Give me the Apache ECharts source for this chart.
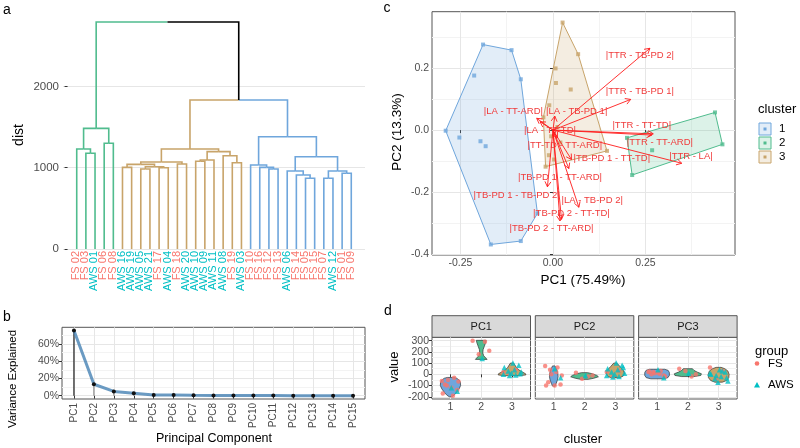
<!DOCTYPE html>
<html>
<head>
<meta charset="utf-8">
<script src="https://cdn.jsdelivr.net/npm/echarts@6/dist/echarts.min.js"></script>
<style>
  html, body { margin: 0; padding: 0; background: #fff; }
  #main { width: 800px; height: 448px; }
</style>
</head>
<body>
<div id="main"></div>
<script>
// ---------- data: a (dendrogram) ----------
const leafLabels = ["FS 02", "FS 03", "AWS 01", "FS 06", "FS 08",
  "AWS 16", "AWS 19", "AWS 05", "AWS 21", "FS 17", "AWS 04", "FS 18", "AWS 20", "AWS 10",
  "AWS 09", "AWS 11", "AWS 08", "FS 19", "AWS 03",
  "FS 10", "FS 16", "FS 12", "FS 13", "AWS 06", "FS 14", "FS 05", "FS 15", "FS 07",
  "AWS 12", "FS 01", "FS 09"];
const leafCluster = [2, 2, 2, 2, 2,
  3, 3, 3, 3, 3, 3, 3, 3, 3, 3, 3, 3, 3, 3,
  1, 1, 1, 1, 1, 1, 1, 1, 1, 1, 1, 1];
// hclust style: negative = leaf number, positive = earlier merge; third value = height
const merges = [
  [-2, -3, 1178], [-1, 1, 1231], [-4, -5, 1301], [2, 3, 1485],
  [-6, -7, 1005], [-8, -9, 985], [-10, -11, 1000], [6, 7, 1013], [5, 8, 1042],
  [-12, -13, 1046], [9, 10, 1071], [-14, -15, 1080], [12, -16, 1095],
  [-18, -19, 1062], [-17, 14, 1148], [13, 15, 1198], [11, 16, 1231],
  [-22, -23, 985], [-21, 18, 1005], [-20, 19, 1034], [-26, -27, 870],
  [-25, 21, 911], [-24, 22, 960], [-28, -29, 870], [-30, -31, 932],
  [24, 25, 960], [23, 26, 1136], [20, 27, 1382],
  [17, 28, 1834], [4, 29, 2794]
];
const distTicks = [0, 1000, 2000];

// ---------- data: b (scree) ----------
const pcNames = ["PC1", "PC2", "PC3", "PC4", "PC5", "PC6", "PC7", "PC8", "PC9", "PC10",
  "PC11", "PC12", "PC13", "PC14", "PC15"];
const varExplained = [75.49, 13.3, 5.0, 3.0, 1.0, 0.8, 0.5, 0.4, 0.3, 0.2, 0.15, 0.1, 0.08, 0.05, 0.03];
const varTicks = [0, 20, 40, 60];

// ---------- data: c (biplot) ----------
const scoresC1 = [[-0.189, 0.276], [-0.112, 0.258], [-0.087, 0.164], [-0.213, 0.176],
  [-0.290, -0.002], [-0.253, -0.024], [-0.196, -0.036], [-0.182, -0.052],
  [-0.168, -0.369], [-0.087, -0.358], [-0.042, -0.269]];
const scoresC2 = [[0.438, 0.057], [0.458, -0.046], [0.214, -0.145], [0.200, -0.025], [0.268, -0.065]];
const scoresC3 = [[0.026, 0.347], [0.068, 0.245], [0.007, 0.199], [0.008, 0.152], [0.048, 0.131],
  [-0.010, 0.080], [-0.026, 0.041], [-0.020, -0.118], [-0.011, -0.081], [0.003, -0.095],
  [0.146, -0.067], [0.012, 0.010], [0.020, -0.040], [-0.005, -0.020]];
const loadingNames = ["|TTR - TB-PD 2|", "|TTR - TB-PD 1|", "|TTR - TT-TD|", "|TTR - TT-ARD|",
  "|TTR - LA|", "|LA - TT-ARD|", "|LA - TB-PD 1|", "|LA - TT-TD|", "|TT-TD - TT-ARD|",
  "|TB-PD 1 - TT-TD|", "|TB-PD 1 - TT-ARD|", "|TB-PD 1 - TB-PD 2|", "|LA - TB-PD 2|",
  "|TB-PD 2 - TT-TD|", "|TB-PD 2 - TT-ARD|"];
const loadingX = [0.262, 0.210, 0.271, 0.267, 0.348, -0.044, 0.005, -0.035, 0.012,
  0.050, 0.043, -0.015, 0.070, 0.023, 0.019];
const loadingY = [0.264, 0.099, -0.012, -0.016, -0.107, 0.038, 0.045, 0.027, -0.025,
  -0.095, -0.124, -0.183, -0.249, -0.288, -0.293];
const labelX = [0.235, 0.235, 0.240, 0.289, 0.373, -0.107, 0.064, -0.008, 0.032,
  0.159, 0.019, -0.098, 0.106, 0.050, -0.004];
const labelY = [0.240, 0.124, 0.016, -0.040, -0.084, 0.062, 0.062, 0.000, -0.048,
  -0.091, -0.151, -0.210, -0.228, -0.269, -0.317];

// ---------- data: d (violins by cluster) ----------
const facetNames = ["PC1", "PC2", "PC3"];
const fsValues = [
  [[-60, -30, -50, -65, -90, -120, -140, -170, -190, -100], [300, 290, 180, 210], [20, 40, 0]],
  [[75, 60, 0, -10, -70, -100, -90, -100, 20, 40], [15, -20, -40, -10], [20, 30, -20]],
  [[20, 30, 10, -20, 0, 15, -10, 25, 5, 20], [50, -20, 30, 0], [60, 30, -40]]
];
const awsValues = [
  [[-120, -150], [140], [100, 80, 60, 40, 30, 20, 10, 0, -5, -10, 5]],
  [[50, -30], [-10], [100, 80, 50, 40, 20, 10, 0, -10, -20, -25, 60]],
  [[40, -30], [10], [40, 20, 0, -20, -40, -60, -70, 10, 30, -10, -30]]
];
// violin outlines: [value, half width in cluster units]
const violins = [
  [
    [[-200, 0.04], [-185, 0.12], [-160, 0.2], [-130, 0.28], [-100, 0.33], [-70, 0.32], [-50, 0.28], [-35, 0.2], [-28, 0.1]],
    [[133, 0.19], [145, 0.15], [165, 0.08], [190, 0.05], [220, 0.06], [250, 0.1], [280, 0.14], [303, 0.16]],
    [[-12, 0.25], [-5, 0.45], [5, 0.44], [20, 0.34], [40, 0.22], [60, 0.14], [80, 0.1], [100, 0.05]]
  ],
  [
    [[-105, 0.04], [-80, 0.08], [-50, 0.12], [-20, 0.14], [10, 0.13], [40, 0.1], [75, 0.04]],
    [[-45, 0.12], [-35, 0.3], [-22, 0.45], [-10, 0.4], [5, 0.25], [15, 0.1]],
    [[-30, 0.15], [-15, 0.26], [10, 0.3], [40, 0.25], [70, 0.15], [100, 0.05]]
  ],
  [
    [[-40, 0.2], [-30, 0.35], [-10, 0.4], [15, 0.4], [35, 0.36], [45, 0.25]],
    [[-20, 0.2], [-10, 0.42], [5, 0.44], [20, 0.3], [35, 0.2], [50, 0.15]],
    [[-70, 0.12], [-55, 0.26], [-30, 0.33], [0, 0.34], [30, 0.3], [50, 0.2], [62, 0.08]]
  ]
];
const valueTicks = [-200, -100, 0, 100, 200, 300];

// ---------- styling ----------
const FONT = "'Liberation Sans', Arial, sans-serif";
const TXT = "#4d4d4d";
const BORDER = "#555";
const MAJOR = "#e6e6e6";
const MINOR = "#f3f3f3";
const clusterColor = { 0: "#000000", 1: "#6FA6DC", 2: "#50BC8E", 3: "#C8A46A" };
const FS_COLOR = "#F8766D";
const AWS_COLOR = "#00BFC4";
const jitterPattern = [-0.28, 0.12, -0.08, 0.26, -0.18, 0.03, 0.22, -0.25, 0.08, -0.12, 0.3, -0.02];

// ---------- dendrogram geometry from merges ----------
const nodes = merges.map(() => null);
function nodeInfo(ref) {
  if (ref < 0) {
    const k = -ref;
    return { x: k, h: 0, clusters: new Set([leafCluster[k - 1]]) };
  }
  return nodes[ref - 1];
}
const dendroSegs = [];
merges.forEach((m, i) => {
  const a = nodeInfo(m[0]);
  const b = nodeInfo(m[1]);
  const x = (a.x + b.x) / 2;
  const h = m[2];
  [a, b].forEach(c => {
    const col = c.clusters.size === 1 ? [...c.clusters][0] : 0;
    dendroSegs.push([x, h, c.x, c.h, col]);
  });
  nodes[i] = { x: x, h: h, clusters: new Set([...a.clusters, ...b.clusters]) };
});

// ---------- convex hull ----------
function hull(pts) {
  const p = pts.slice().sort((a, b) => a[0] - b[0] || a[1] - b[1]);
  const cross = (o, a, b) => (a[0] - o[0]) * (b[1] - o[1]) - (a[1] - o[1]) * (b[0] - o[0]);
  const lower = [];
  for (const q of p) {
    while (lower.length >= 2 && cross(lower[lower.length - 2], lower[lower.length - 1], q) <= 0) lower.pop();
    lower.push(q);
  }
  const upper = [];
  for (const q of p.slice().reverse()) {
    while (upper.length >= 2 && cross(upper[upper.length - 2], upper[upper.length - 1], q) <= 0) upper.pop();
    upper.push(q);
  }
  upper.pop();
  lower.pop();
  return lower.concat(upper);
}
const clusterScores = [scoresC1, scoresC2, scoresC3];

// ---------- axis helpers ----------
function valAxis(gridIndex, min, max, ticks, fmt, extra) {
  return Object.assign({
    type: "value", gridIndex: gridIndex, min: min, max: max,
    axisLine: { show: false },
    axisTick: { show: true, length: 3, customValues: ticks, lineStyle: { color: "#333" } },
    axisLabel: { show: true, customValues: ticks, formatter: fmt, color: TXT, fontSize: 10.5, margin: 3, fontFamily: FONT },
    splitLine: { show: true, lineStyle: { color: MAJOR, width: 1 } }
  }, extra || {});
}
function minorAxis(gridIndex, min, max, ticks) {
  return {
    type: "value", gridIndex: gridIndex, min: min, max: max,
    axisLine: { show: false },
    axisTick: { show: false, customValues: ticks },
    axisLabel: { show: false, customValues: ticks },
    splitLine: { show: true, lineStyle: { color: MINOR, width: 1 } }
  };
}
const boxGrid = (left, top, width, height) => ({
  left: left, top: top, width: width, height: height, show: true,
  borderColor: BORDER, borderWidth: 1, backgroundColor: "#fff"
});

const facetLeft = [432, 535.3, 638.6];
const FACET_W = 98.5, FACET_TOP = 337.3, FACET_H = 61.7;

const grids = [
  { left: 63, top: 11.4, width: 302, height: 248.9 },
  { left: 71.4, top: 11.4, width: 284, height: 237.6 },
  boxGrid(62, 327.3, 303, 71.7),
  boxGrid(432, 11.7, 303, 243.3)
];
facetLeft.forEach(l => grids.push(boxGrid(l, FACET_TOP, FACET_W, FACET_H)));

const xAxes = [
  { type: "value", gridIndex: 0, min: -0.5, max: 32.5, show: false },
  {
    type: "category", gridIndex: 1, data: leafLabels,
    axisLine: { show: false }, axisTick: { show: false },
    axisLabel: {
      rotate: 90, interval: 0, margin: 2, fontSize: 11, fontFamily: FONT,
      color: v => (v.indexOf("AWS") === 0 ? AWS_COLOR : FS_COLOR)
    }
  },
  valAxis(2, 0.4, 15.6, pcNames.map((_, i) => i + 1), v => "PC" + v,
    { axisLabel: { customValues: pcNames.map((_, i) => i + 1), formatter: v => "PC" + v, rotate: 90, color: TXT, fontSize: 10, margin: 4, fontFamily: FONT } }),
  valAxis(3, -0.327, 0.492, [-0.25, 0, 0.25], v => v.toFixed(2)),
  minorAxis(3, -0.327, 0.492, [-0.125, 0.125, 0.375])
];
facetLeft.forEach((_, f) => xAxes.push(valAxis(4 + f, 0.4, 3.6, [1, 2, 3], v => String(v))));

const yAxes = [
  valAxis(0, -139, 2924, distTicks, v => String(v), { axisLabel: { customValues: distTicks, formatter: v => String(v), color: TXT, fontSize: 11.5, margin: 4, fontFamily: FONT } }),
  { type: "value", gridIndex: 1, min: 0, max: 1, show: false },
  valAxis(2, -3.77, 79.26, varTicks, v => v + "%"),
  minorAxis(2, -3.77, 79.26, [10, 30, 50, 70]),
  valAxis(3, -0.403, 0.382, [-0.4, -0.2, 0, 0.2], v => v.toFixed(1)),
  minorAxis(3, -0.403, 0.382, [-0.3, -0.1, 0.1, 0.3])
];
facetLeft.forEach((_, f) => yAxes.push(valAxis(4 + f, -220, 330, valueTicks, v => String(v),
  f === 0 ? {} : { axisLabel: { show: false, customValues: valueTicks }, axisTick: { show: false, customValues: valueTicks } })));
facetLeft.forEach((_, f) => yAxes.push(minorAxis(4 + f, -220, 330, [-150, -50, 50, 150, 250])));

// ---------- series ----------
const series = [];

series.push({
  type: "custom", xAxisIndex: 0, yAxisIndex: 0,
  encode: { x: [0, 2], y: [1, 3] },
  data: dendroSegs,
  renderItem: (params, api) => {
    const p0 = api.coord([api.value(0), api.value(1)]);
    const p1 = api.coord([api.value(2), api.value(1)]);
    const p2 = api.coord([api.value(2), api.value(3)]);
    return {
      type: "polyline",
      shape: { points: [p0, p1, p2] },
      style: { stroke: clusterColor[api.value(4)], lineWidth: 1.6, fill: null }
    };
  }
});
series.push({ type: "scatter", xAxisIndex: 1, yAxisIndex: 1, data: [] });

// b
const screeData = varExplained.map((v, i) => [i + 1, v]);
series.push({
  type: "bar", xAxisIndex: 2, yAxisIndex: 2, data: screeData, barWidth: 1.2,
  itemStyle: { color: p => (p.dataIndex === 0 ? "#1a1a1a" : "#8c8c8c") }
});
series.push({
  type: "line", xAxisIndex: 2, yAxisIndex: 2, data: screeData,
  lineStyle: { color: "rgba(70,130,180,0.8)", width: 3 },
  symbol: "circle", symbolSize: 4, itemStyle: { color: "#111" }, z: 3
});

// c: hulls
series.push({
  type: "custom", xAxisIndex: 3, yAxisIndex: 4,
  data: [[0, 0, 1], [0, 0, 2], [0, 0, 3]],
  renderItem: (params, api) => {
    const c = params.dataIndex + 1;
    const pts = hull(clusterScores[c - 1]).map(p => api.coord(p));
    return {
      type: "polygon", shape: { points: pts },
      style: { fill: echarts.color.modifyAlpha(clusterColor[c], 0.2), stroke: clusterColor[c], lineWidth: 1 }
    };
  }
});
clusterScores.forEach((pts, i) => {
  series.push({
    type: "scatter", xAxisIndex: 3, yAxisIndex: 4, data: pts,
    symbol: "rect", symbolSize: 4, itemStyle: { color: clusterColor[i + 1] }
  });
});
// c: arrows
series.push({
  type: "custom", xAxisIndex: 3, yAxisIndex: 4, z: 5,
  data: loadingX.map((x, i) => [x, loadingY[i]]),
  renderItem: (params, api) => {
    const o = api.coord([0, 0]);
    const e = api.coord([api.value(0), api.value(1)]);
    const ang = Math.atan2(e[1] - o[1], e[0] - o[0]);
    const L = 6, A = Math.PI / 6;
    const h1 = [e[0] - L * Math.cos(ang - A), e[1] - L * Math.sin(ang - A)];
    const h2 = [e[0] - L * Math.cos(ang + A), e[1] - L * Math.sin(ang + A)];
    const st = { stroke: "#ff1a1a", lineWidth: 0.9 };
    return {
      type: "group", children: [
        { type: "line", shape: { x1: o[0], y1: o[1], x2: e[0], y2: e[1] }, style: st },
        { type: "polyline", shape: { points: [h1, e, h2] }, style: Object.assign({ fill: null }, st) }
      ]
    };
  }
});
series.push({
  type: "custom", xAxisIndex: 3, yAxisIndex: 4, z: 6,
  data: labelX.map((x, i) => [x, labelY[i]]),
  renderItem: (params, api) => {
    const p = api.coord([api.value(0), api.value(1)]);
    return {
      type: "text", x: p[0], y: p[1],
      style: {
        text: loadingNames[params.dataIndex], fill: "#f03a3a", fontSize: 9.5, fontFamily: FONT,
        align: "center", verticalAlign: "middle"
      }
    };
  }
});

// d: violins and points
facetLeft.forEach((_, f) => {
  series.push({
    type: "custom", xAxisIndex: 5 + f, yAxisIndex: 6 + f,
    data: [[1, 0], [2, 0], [3, 0]],
    renderItem: (params, api) => {
      const c = params.dataIndex;
      const prof = violins[f][c];
      const right = prof.map(p => api.coord([c + 1 + p[1], p[0]]));
      const left = prof.slice().reverse().map(p => api.coord([c + 1 - p[1], p[0]]));
      return {
        type: "polygon", shape: { points: right.concat(left) },
        style: { fill: clusterColor[c + 1], stroke: "#333", lineWidth: 0.7 }
      };
    }
  });
  const fsPts = [], awsPts = [];
  fsValues[f].forEach((vals, c) => vals.forEach((v, j) => fsPts.push([c + 1 + jitterPattern[j % 12], v])));
  awsValues[f].forEach((vals, c) => vals.forEach((v, j) => awsPts.push([c + 1 + jitterPattern[(j + 5) % 12], v])));
  series.push({
    type: "scatter", xAxisIndex: 5 + f, yAxisIndex: 6 + f, data: fsPts, z: 4,
    symbol: "circle", symbolSize: 4.5, itemStyle: { color: FS_COLOR }
  });
  series.push({
    type: "scatter", xAxisIndex: 5 + f, yAxisIndex: 6 + f, data: awsPts, z: 4,
    symbol: "triangle", symbolSize: 5.5, itemStyle: { color: AWS_COLOR }
  });
});

// ---------- text, strips, legends ----------
const txt = (text, x, y, size, extra) => Object.assign({
  type: "text", x: x, y: y,
  style: { text: text, fill: "#000", fontSize: size, fontFamily: FONT, align: "center", verticalAlign: "middle" }
}, extra || {});
const graphic = [
  txt("a", 7, 10, 14), txt("b", 7, 317, 14), txt("c", 387, 8, 14), txt("d", 388, 311, 14),
  txt("dist", 19, 135, 14, { rotation: Math.PI / 2 }),
  txt("Variance Explained", 13, 379, 11.5, { rotation: Math.PI / 2 }),
  txt("Principal Component", 214, 439, 12.5),
  txt("PC2 (13.3%)", 397, 132, 13.5, { rotation: Math.PI / 2 }),
  txt("PC1 (75.49%)", 583, 280, 13.5),
  txt("value", 394, 367, 13, { rotation: Math.PI / 2 }),
  txt("cluster", 583, 439, 13)
];
facetLeft.forEach((l, f) => {
  graphic.push({
    type: "rect", shape: { x: l, y: 315.7, width: FACET_W, height: FACET_TOP - 315.7 },
    style: { fill: "#d9d9d9", stroke: BORDER, lineWidth: 1 }
  });
  graphic.push(txt(facetNames[f], l + FACET_W / 2, 326.5, 11, { style: { text: facetNames[f], fill: "#1a1a1a", fontSize: 11, fontFamily: FONT, align: "center", verticalAlign: "middle" } }));
});
// cluster legend
graphic.push(txt("cluster", 758, 109, 13, { style: { text: "cluster", fill: "#000", fontSize: 13, fontFamily: FONT, align: "left", verticalAlign: "middle" } }));
[1, 2, 3].forEach((c, i) => {
  const y = 123 + i * 14;
  graphic.push({
    type: "rect", shape: { x: 759, y: y, width: 12, height: 12 },
    style: { fill: echarts.color.modifyAlpha(clusterColor[c], 0.2), stroke: clusterColor[c], lineWidth: 1 }
  });
  graphic.push({ type: "rect", shape: { x: 763.5, y: y + 4.5, width: 3, height: 3 }, style: { fill: clusterColor[c] } });
  graphic.push(txt(String(c), 779, y + 6, 11.5, { style: { text: String(c), fill: "#000", fontSize: 11.5, fontFamily: FONT, align: "left", verticalAlign: "middle" } }));
});
// group legend
graphic.push(txt("group", 755, 351, 13, { style: { text: "group", fill: "#000", fontSize: 13, fontFamily: FONT, align: "left", verticalAlign: "middle" } }));
graphic.push({ type: "circle", shape: { cx: 757, cy: 363.5, r: 2.3 }, style: { fill: FS_COLOR } });
graphic.push(txt("FS", 768, 363.5, 11.5, { style: { text: "FS", fill: "#000", fontSize: 11.5, fontFamily: FONT, align: "left", verticalAlign: "middle" } }));
graphic.push({ type: "polygon", shape: { points: [[757, 382], [760, 387.5], [754, 387.5]] }, style: { fill: AWS_COLOR } });
graphic.push(txt("AWS", 768, 385, 11.5, { style: { text: "AWS", fill: "#000", fontSize: 11.5, fontFamily: FONT, align: "left", verticalAlign: "middle" } }));

const chart = echarts.init(document.getElementById("main"));
chart.setOption({
  animation: false,
  backgroundColor: "#fff",
  textStyle: { fontFamily: FONT },
  grid: grids,
  xAxis: xAxes,
  yAxis: yAxes,
  series: series,
  graphic: graphic
});
</script>
</body>
</html>
